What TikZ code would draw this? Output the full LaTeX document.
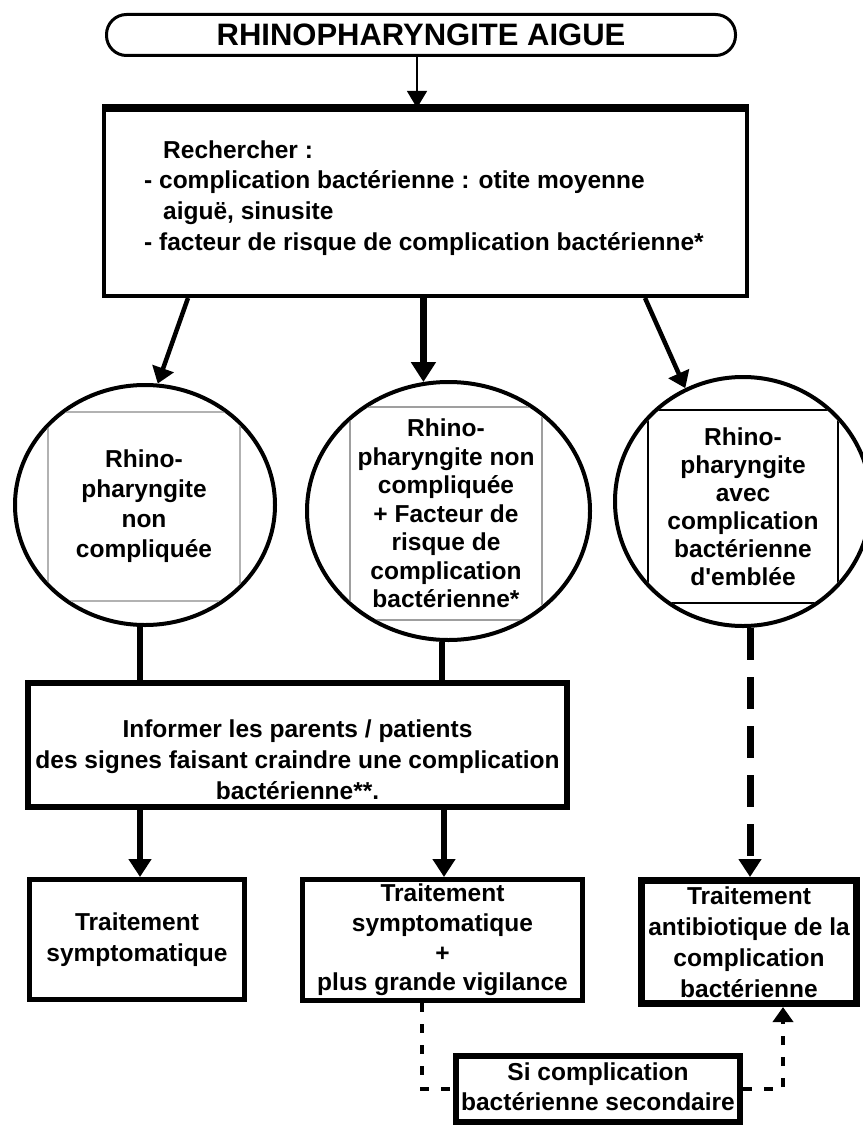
\documentclass[tikz,border=0pt]{standalone}
\usepackage{fontspec}
\setmainfont{Liberation Sans}
\usetikzlibrary{shapes.geometric,arrows.meta}

\newcommand{\corps}{\bfseries\fontsize{24.5}{30}\selectfont}

\begin{document}
\begin{tikzpicture}[x=1pt,y=-1pt,
  boite/.style={draw,line width=5pt,inner sep=0pt,align=center,font=\corps},
  ovale/.style={ellipse,draw,line width=4pt,inner sep=0pt},
  cadre/.style={draw=gray!60,line width=1.5pt,inner sep=0pt,align=center,font=\corps},
  texte/.style={inner sep=0pt,align=center,font=\corps},
  fleche/.style={line width=6pt,-{Triangle[length=18pt,width=22pt]}},
  tirets/.style={line width=7pt,dash pattern=on 32pt off 17pt,-{Triangle[length=18pt,width=22pt]}},
  pointille/.style={line width=4pt,dash pattern=on 9pt off 12pt}]
\useasboundingbox (0,0) rectangle (862,1126);
\node[draw,line width=3pt,rounded corners=20pt,minimum width=629pt,minimum height=41pt,font=\bfseries\fontsize{31}{31}\selectfont] (titre) at (421,35) {RHINOPHARYNGITE AIGUE};
\node[boite,line width=4pt,minimum width=643pt,minimum height=186pt] (rech) at (425.5,203) {};
\draw[line width=7pt] (rech.north west) -- (rech.north east);
\node[texte,anchor=west,align=left,font=\bfseries\fontsize{24.5}{30.7}\selectfont] (rechtxt) at (144,198) {\hspace*{19pt}Rechercher :\\- complication bactérienne : otite moyenne\\\hspace*{19pt}aiguë, sinusite\\- facteur de risque de complication bactérienne*};
\draw[line width=1.2pt,-{Triangle[length=17pt,width=20pt]}] ([xshift=-4pt]titre.south) -- ([xshift=-4pt]titre.south |- rech.north);

\node[ovale,minimum width=260pt,minimum height=240pt] (rpa) at (145,505) {};
\begin{scope}
\clip (145,505) ellipse (128pt and 118pt);
\node[cadre,minimum width=192pt,minimum height=189pt] (rpatxt) at (144,506.5) {Rhino-\\pharyngite\\non\\compliquée};
\end{scope}
\node[ovale,minimum width=283pt,minimum height=258pt] (rpb) at (448.5,511) {};
\begin{scope}
\clip (448.5,511) ellipse (139.5pt and 127pt);
\node[cadre,draw=gray!75,font=\bfseries\fontsize{24.5}{28.5}\selectfont,minimum width=192pt,minimum height=213pt] (rpbtxt) at (446,513.5) {Rhino-\\pharyngite non\\compliquée\\+ Facteur de\\risque de\\complication\\bactérienne*};
\end{scope}
\node[ovale,minimum width=256pt,minimum height=249pt] (rpc) at (743,501.5) {};
\begin{scope}
\clip (743,501.5) ellipse (126pt and 122.5pt);
\node[cadre,draw=black,line width=1.2pt,font=\bfseries\fontsize{24.5}{28}\selectfont,minimum width=190pt,minimum height=193pt] (rpctxt) at (743,506.5) {Rhino-\\pharyngite\\avec\\complication\\bactérienne\\d\textquotesingle emblée};
\end{scope}

\draw[line width=4.5pt,-{Triangle[length=16pt,width=22pt]}] ([xshift=-237.5pt]rech.south) -- (rpa.84);
\draw[line width=7pt,-{Triangle[length=20pt,width=24pt]}] (rpb.101 |- rech.south) -- (rpb.101);
\draw[line width=4.5pt,-{Triangle[length=16pt,width=22pt]}] ([xshift=219.5pt]rech.south) -- (rpc.117);

\node[boite,line width=6pt,minimum width=539pt,minimum height=124pt] (inf) at (297.5,745) {};
\node[texte,font=\bfseries\fontsize{24.5}{31}\selectfont] (inftxt) at (297.5,760) {Informer les parents / patients\\des signes faisant craindre une complication\\bactérienne**.};
\draw[line width=6pt] ([xshift=-5pt]rpa.south) -- ([xshift=-5pt]rpa.south |- inf.north);
\draw[line width=6pt] ([xshift=-6.5pt]rpb.south) -- ([xshift=-6.5pt]rpb.south |- inf.north);

\node[boite,minimum width=215pt,minimum height=120pt,font=\bfseries\fontsize{24.5}{31}\selectfont] (ts1) at (137,939.5) {Traitement\\symptomatique};
\node[boite,minimum width=280pt,minimum height=121pt,font=\bfseries\fontsize{24.5}{29.7}\selectfont] (ts2) at (442.5,940) {Traitement\\symptomatique\\+\\plus grande vigilance};
\node[boite,line width=7pt,minimum width=215pt,minimum height=123pt,font=\bfseries\fontsize{24.5}{31}\selectfont] (ts3) at (749,942) {Traitement\\antibiotique de la\\complication\\bactérienne};
\node[boite,line width=6pt,minimum width=284pt,minimum height=66pt] (sec) at (598,1089) {};
\node[texte] (sectxt) at (598,1087) {Si complication\\bactérienne secondaire};

\draw[fleche] ([xshift=3pt]ts1.north |- inf.south) -- ([xshift=3pt]ts1.north);
\draw[fleche] ([xshift=1.5pt]ts2.north |- inf.south) -- ([xshift=1.5pt]ts2.north);
\draw[tirets] ([xshift=7pt]rpc.south) -- ([xshift=7pt]rpc.south |- ts3.north);
\draw[pointille] ([xshift=-20.5pt]ts2.south) |- (sec.west);
\draw[pointille,-{Triangle[length=15pt,width=20pt]}] (sec.east) -| ([xshift=34pt]ts3.south);
\end{tikzpicture}
\end{document}
